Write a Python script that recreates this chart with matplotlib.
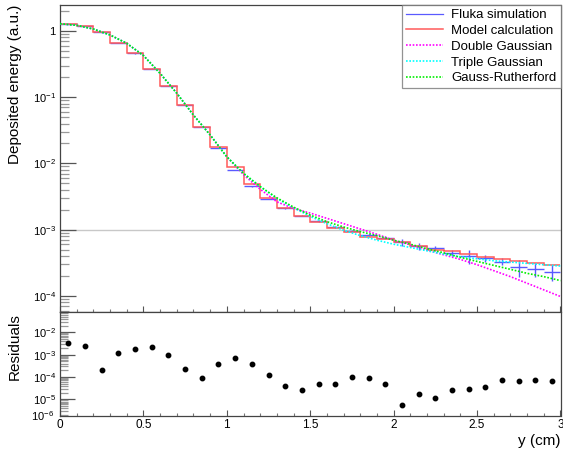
import matplotlib
matplotlib.use("Agg")
import matplotlib.pyplot as plt
import numpy as np
from matplotlib.ticker import FixedLocator, FuncFormatter, NullFormatter, MultipleLocator

plt.rcParams['font.family'] = ['Liberation Sans', 'DejaVu Sans']
plt.rcParams['mathtext.fontset'] = 'custom'
plt.rcParams['mathtext.rm'] = 'Liberation Sans'

# --- data ---
bin_edges = np.round(np.arange(0, 3.01, 0.1), 2)
bin_centers = np.round(bin_edges[:-1] + 0.05, 3)

fluka = [1.28, 1.19, 0.95, 0.66, 0.46, 0.27, 0.149, 0.076, 0.036, 0.0170,
         0.0079, 0.0045, 0.0029, 0.0021, 0.00163, 0.00135, 0.0011, 0.00095, 0.00083, 0.00076,
         0.00065, 0.00056, 0.00052, 0.00045, 0.00040, 0.00037, 0.00033, 0.00027, 0.00025, 0.00023]
fluka_err = [0.006, 0.006, 0.005, 0.004, 0.003, 0.002, 0.001, 0.0006, 0.0003, 0.00015,
             0.00008, 0.00005, 0.00003, 0.00002, 0.00002, 0.00003, 0.00003, 0.00004, 0.00004, 0.00005,
             0.00008, 0.00007, 0.00005, 0.00005, 0.00010, 0.00004, 0.00004, 0.00008, 0.00006, 0.00006]
model = [1.29, 1.20, 0.95, 0.67, 0.46, 0.27, 0.149, 0.076, 0.036, 0.0174,
         0.0087, 0.0049, 0.0030, 0.0021, 0.00163, 0.00132, 0.00107, 0.00091, 0.00078, 0.00071,
         0.00064, 0.00056, 0.00050, 0.00047, 0.00043, 0.00039, 0.00036, 0.00034, 0.00031, 0.00029]

curve_x = [0.0, 0.1, 0.2, 0.3, 0.4, 0.5, 0.6, 0.7, 0.8, 0.9, 1.0, 1.1, 1.2, 1.3, 1.4,
           1.5, 1.6, 1.7, 1.8, 1.9, 2.0, 2.1, 2.2, 2.3, 2.4, 2.5, 2.6, 2.7, 2.8, 2.9, 3.0]
# log10 of the fitted curves
double_gauss_log = [0.11, 0.086, 0.03, -0.06, -0.186, -0.37, -0.64, -0.94, -1.27, -1.57, -1.90,
                    -2.17, -2.39, -2.58, -2.68, -2.75, -2.83, -2.91, -2.99, -3.07, -3.16,
                    -3.23, -3.31, -3.38, -3.45, -3.53, -3.62, -3.71, -3.81, -3.91, -4.01]
triple_gauss_log = [0.11, 0.086, 0.03, -0.06, -0.186, -0.37, -0.64, -0.94, -1.27, -1.57, -1.90,
                    -2.15, -2.35, -2.53, -2.67, -2.80, -2.91, -3.01, -3.09, -3.16, -3.22,
                    -3.27, -3.32, -3.37, -3.41, -3.44, -3.47, -3.49, -3.51, -3.53, -3.55]
gauss_ruth_log = [0.11, 0.086, 0.03, -0.06, -0.186, -0.37, -0.64, -0.94, -1.27, -1.57, -1.90,
                  -2.15, -2.35, -2.52, -2.66, -2.78, -2.88, -2.96, -3.03, -3.09, -3.16,
                  -3.22, -3.29, -3.35, -3.42, -3.48, -3.54, -3.60, -3.66, -3.71, -3.77]

residuals = [3.4e-3, 2.4e-3, 2.0e-4, 1.15e-3, 1.8e-3, 2.3e-3, 9.5e-4, 2.4e-4, 8.7e-5, 3.9e-4,
             6.8e-4, 3.9e-4, 1.2e-4, 4.1e-5, 2.6e-5, 5.1e-5, 5.1e-5, 1.0e-4, 8.9e-5, 5.1e-5,
             5.4e-6, 1.8e-5, 1.2e-5, 2.6e-5, 2.8e-5, 3.5e-5, 7.2e-5, 6.5e-5, 7.0e-5, 6.8e-5]

top_ticks = [1e0, 1e-1, 1e-2, 1e-3, 1e-4]
res_ticks = [1e-2, 1e-3, 1e-4, 1e-5]

W, H = 563, 449
fig = plt.figure(figsize=(W / 100, H / 100), dpi=100)
left, right = 60 / W, 560.5 / W
ax = fig.add_axes([left, 1 - 312 / H, right - left, (312 - 5) / H])
axr = fig.add_axes([left, 1 - 416 / H, right - left, (416 - 312) / H])

blue = '#5a5aff'
red = '#ff5a5a'

# model histogram (stairs), fluka as bins with error bars
ax.stairs(model, bin_edges, baseline=None, color=red, lw=1.1, label='Model calculation', zorder=3)
ax.errorbar(bin_centers, fluka, xerr=0.05, yerr=fluka_err, fmt='none', ecolor=blue,
            elinewidth=1.0, capsize=0, zorder=2)
ax.plot([], [], color=blue, lw=0.9, label='Fluka simulation')

ax.axhline(1e-3, color='#c8c8c8', lw=1.0, zorder=1)

ax.plot(curve_x, 10 ** np.array(double_gauss_log), color='#ff00ff', lw=1.2,
        ls=(0, (1, 1)), label='Double Gaussian', zorder=4)
ax.plot(curve_x, 10 ** np.array(triple_gauss_log), color='#00ffff', lw=1.2,
        ls=(0, (1, 1)), label='Triple Gaussian', zorder=4)
ax.plot(curve_x, 10 ** np.array(gauss_ruth_log), color='#00ee00', lw=1.2,
        ls=(0, (1, 1)), label='Gauss-Rutherford', zorder=4)

ax.set_yscale('log')
ax.set_xlim(0, 3)
ax.set_ylim(5.7e-5, 2.47)

def top_fmt(v, pos):
    e = int(round(np.log10(v)))
    return '1' if e == 0 else r'$\mathregular{10^{%d}}$' % e

ax.yaxis.set_major_locator(FixedLocator(top_ticks))
ax.yaxis.set_major_formatter(FuncFormatter(top_fmt))
ax.yaxis.set_minor_locator(matplotlib.ticker.LogLocator(base=10, subs=np.arange(2, 10), numticks=20))
ax.yaxis.set_minor_formatter(NullFormatter())
ax.xaxis.set_major_locator(MultipleLocator(0.5))
ax.xaxis.set_minor_locator(MultipleLocator(0.1))
ax.xaxis.set_major_formatter(NullFormatter())

axr.plot(bin_centers, residuals, 'o', color='black', ms=3.2, zorder=3)
axr.set_yscale('log')
axr.set_xlim(0, 3)
axr.set_ylim(1.8e-6, 0.081)
axr.yaxis.set_major_locator(FixedLocator(res_ticks))
axr.yaxis.set_major_formatter(FuncFormatter(top_fmt))
axr.yaxis.set_minor_locator(matplotlib.ticker.LogLocator(base=10, subs=np.arange(2, 10), numticks=20))
axr.yaxis.set_minor_formatter(NullFormatter())
axr.xaxis.set_major_locator(MultipleLocator(0.5))
axr.xaxis.set_minor_locator(MultipleLocator(0.1))
axr.xaxis.set_major_formatter(FuncFormatter(lambda v, p: '%g' % v))
axr.text(-0.012, 0.0, r'$\mathregular{10^{-6}}$', transform=axr.transAxes,
         ha='right', va='center', fontsize=8)

for a, ylong, yshort in [(ax, 11.5, 6.5), (axr, 11, 5.5)]:
    for s in a.spines.values():
        s.set_color('#444444')
        s.set_linewidth(0.9)
    a.tick_params(axis='y', which='major', direction='in', length=ylong, width=0.9,
                  color='#555555', labelsize=8, pad=3, right=False)
    a.tick_params(axis='y', which='minor', direction='in', length=yshort, width=0.9,
                  color='#999999', right=False)
    a.tick_params(axis='x', which='major', direction='in', length=4.5, width=0.8,
                  color='#555555', labelsize=8.5, top=False)
    a.tick_params(axis='x', which='minor', direction='in', length=2.3, width=0.8,
                  color='#777777', top=False)

axr.tick_params(axis='x', which='major', pad=2)

handles, labels = ax.get_legend_handles_labels()
order = ['Fluka simulation', 'Model calculation', 'Double Gaussian', 'Triple Gaussian', 'Gauss-Rutherford']
hmap = dict(zip(labels, handles))
leg = ax.legend([hmap[k] for k in order], order, loc='upper right', bbox_to_anchor=(1, 1),
                borderaxespad=0, fontsize=9.5, frameon=True, fancybox=False,
                edgecolor='#777777', borderpad=0.3, labelspacing=0.27, handlelength=2.8,
                handletextpad=0.6)
leg.get_frame().set_linewidth(0.9)

fig.text(15 / W, 1 - 5 / H, 'Deposited energy (a.u.)', rotation=90, ha='center', va='top', fontsize=11)
fig.text(15 / W, 1 - 313 / H, 'Residuals', rotation=90, ha='center', va='top', fontsize=11)
fig.text(561 / W, 1 - 441 / H, 'y (cm)', ha='right', va='center', fontsize=11)

fig.savefig('out.png', dpi=100, facecolor='white')
